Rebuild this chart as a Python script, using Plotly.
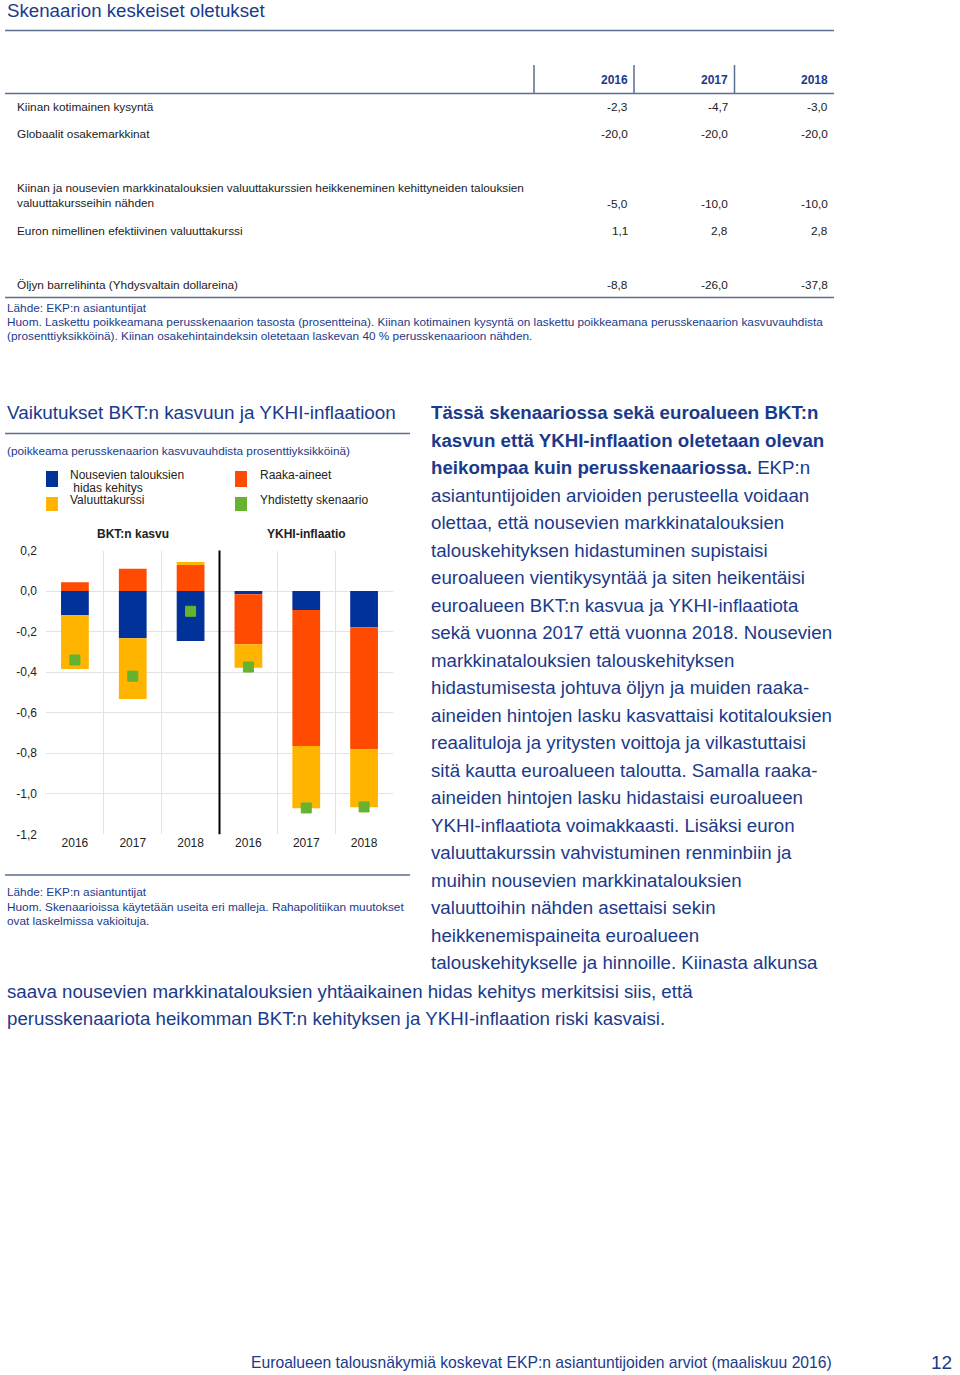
import plotly.graph_objects as go

# ---------------- data ----------------
years = ["2016", "2017", "2018", "2016", "2017", "2018"]
nousevat = [-0.120, -0.233, -0.247, -0.016, -0.094, -0.179]   # Nousevien talouksien hidas kehitys
raaka = [0.043, 0.110, 0.128, -0.247, -0.671, -0.602]        # Raaka-aineet
valuutta = [-0.265, -0.300, 0.015, -0.115, -0.307, -0.286]   # Valuuttakurssi
yhdistetty = [-0.34, -0.42, -0.10, -0.375, -1.07, -1.065]    # Yhdistetty skenaario
y_ticks = [0.2, 0.0, -0.2, -0.4, -0.6, -0.8, -1.0, -1.2]

table_years = ["2016", "2017", "2018"]
table_rows = [
    "Kiinan kotimainen kysyntä",
    "Globaalit osakemarkkinat",
    "Kiinan ja nousevien markkinatalouksien valuuttakurssien heikkeneminen kehittyneiden talouksien<br>valuuttakursseihin nähden",
    "Euron nimellinen efektiivinen valuuttakurssi",
    "Öljyn barrelihinta (Yhdysvaltain dollareina)",
]
table_values = [
    ["-2,3", "-4,7", "-3,0"],
    ["-20,0", "-20,0", "-20,0"],
    ["-5,0", "-10,0", "-10,0"],
    ["1,1", "2,8", "2,8"],
    ["-8,8", "-26,0", "-37,8"],
]

body_lines = [
    "<b>Tässä skenaariossa sekä euroalueen BKT:n</b>",
    "<b>kasvun että YKHI-inflaation oletetaan olevan</b>",
    "<b>heikompaa kuin perusskenaariossa.</b> EKP:n",
    "asiantuntijoiden arvioiden perusteella voidaan",
    "olettaa, että nousevien markkinatalouksien",
    "talouskehityksen hidastuminen supistaisi",
    "euroalueen vientikysyntää ja siten heikentäisi",
    "euroalueen BKT:n kasvua ja YKHI-inflaatiota",
    "sekä vuonna 2017 että vuonna 2018. Nousevien",
    "markkinatalouksien talouskehityksen",
    "hidastumisesta johtuva öljyn ja muiden raaka-",
    "aineiden hintojen lasku kasvattaisi kotitalouksien",
    "reaalituloja ja yritysten voittoja ja vilkastuttaisi",
    "sitä kautta euroalueen taloutta. Samalla raaka-",
    "aineiden hintojen lasku hidastaisi euroalueen",
    "YKHI-inflaatiota voimakkaasti. Lisäksi euron",
    "valuuttakurssin vahvistuminen renminbiin ja",
    "muihin nousevien markkinatalouksien",
    "valuuttoihin nähden asettaisi sekin",
    "heikkenemispaineita euroalueen",
    "talouskehitykselle ja hinnoille. Kiinasta alkunsa",
]
body_wide_lines = [
    "saava nousevien markkinatalouksien yhtäaikainen hidas kehitys merkitsisi siis, että",
    "perusskenaariota heikomman BKT:n kehityksen ja YKHI-inflaation riski kasvaisi.",
]

# ---------------- styling ----------------
W, H = 960, 1375
FONT = "Liberation Sans, Arial, Helvetica, sans-serif"
NAVY = "#1a3a8c"
LINE = "#5b6f8f"
BLUE = "#003299"
ORANGE = "#ff4b00"
YELLOW = "#ffb400"
GREEN = "#65b32e"
GRID = "#e3e3e3"
SMALL = 11.8
BODY = 18.7


def px(x):
    return x / W


def py(y):
    return 1 - y / H


xs = list(range(len(years)))
y_ticktext = [("%.1f" % v).replace(".", ",") for v in y_ticks]

fig = go.Figure()
fig.add_trace(go.Bar(x=xs, y=nousevat, marker_color=BLUE, width=0.48,
                     marker_line_width=0, name="Nousevien talouksien hidas kehitys"))
fig.add_trace(go.Bar(x=xs, y=raaka, marker_color=ORANGE, width=0.48,
                     marker_line_width=0, name="Raaka-aineet"))
fig.add_trace(go.Bar(x=xs, y=valuutta, marker_color=YELLOW, width=0.48,
                     marker_line_width=0, name="Valuuttakurssi"))
fig.add_trace(go.Scatter(x=xs, y=yhdistetty, mode="markers", name="Yhdistetty skenaario",
                         marker=dict(symbol="square", size=10, color=GREEN,
                                     line=dict(width=1, color=GREEN))))

plot_top, plot_bot = 550.5, 834.3
fig.update_layout(
    width=W, height=H,
    autosize=False,
    margin=dict(l=0, r=0, t=0, b=0, pad=0),
    paper_bgcolor="white", plot_bgcolor="white",
    barmode="relative",
    showlegend=False,
    font=dict(family=FONT, color="#222222", size=11),
    xaxis=dict(
        domain=[px(46), px(393)],
        range=[-0.5, 5.5],
        automargin=False,
        tickmode="array", tickvals=xs, ticktext=years,
        showgrid=False, zeroline=False, showline=False,
        ticks="", tickfont=dict(size=12, color="#222222"),
        minor=dict(tickmode="array", tickvals=[-0.5, 0.5, 1.5, 3.5, 4.5, 5.5],
                   showgrid=True, gridcolor=GRID, gridwidth=1, ticks=""),
    ),
    yaxis=dict(
        domain=[py(plot_bot), py(plot_top)],
        range=[-1.2, 0.2],
        automargin=False,
        tickmode="array", tickvals=y_ticks, ticktext=y_ticktext,
        showgrid=True, gridcolor=GRID, gridwidth=1,
        zeroline=False, showline=False, ticks="",
        ticklabelstandoff=8,
        tickfont=dict(size=12, color="#222222"),
    ),
)

# divider between the two panels
fig.add_shape(type="line", xref="x", yref="paper", x0=2.5, x1=2.5,
              y0=py(plot_bot), y1=py(plot_top), line=dict(color="black", width=2))

annotations = []
shapes = []


def text(x, y, s, size=SMALL, color="#222222", xanchor="left", bold=False, yanchor="middle"):
    annotations.append(dict(
        x=px(x), y=py(y), xref="paper", yref="paper", text=("<b>%s</b>" % s) if bold else s,
        showarrow=False, xanchor=xanchor, yanchor=yanchor, align="left",
        font=dict(family=FONT, size=size, color=color), borderpad=0))


def hline(x0, x1, y, color=LINE, width=1.5):
    shapes.append(dict(type="line", xref="paper", yref="paper", x0=px(x0), x1=px(x1),
                       y0=py(y), y1=py(y), line=dict(color=color, width=width)))


def vline(x, y0, y1, color=LINE, width=1.5):
    shapes.append(dict(type="line", xref="paper", yref="paper", x0=px(x), x1=px(x),
                       y0=py(y0), y1=py(y1), line=dict(color=color, width=width)))


def rect(x0, y0, x1, y1, color):
    shapes.append(dict(type="rect", xref="paper", yref="paper", x0=px(x0), x1=px(x1),
                       y0=py(y1), y1=py(y0), fillcolor=color, line=dict(width=0)))


# ---------- top table ----------
text(6, 10.5, "Skenaarion keskeiset oletukset", size=18.7, color=NAVY)
hline(5, 834, 30.5)
for xv in (534, 634, 734.5):
    vline(xv, 65, 93)
hline(5, 834, 93.5)
col_x = [629, 729, 829]
for cx, yr in zip(col_x, table_years):
    text(cx, 80, yr, size=12, color=NAVY, xanchor="right", bold=True)

row_label_y = [107, 134, 196, 231, 285]
row_value_y = [107, 134, 204, 231, 285]
for lbl, ly, vy, vals in zip(table_rows, row_label_y, row_value_y, table_values):
    text(16, ly, lbl)
    for cx, v in zip(col_x, vals):
        text(cx, vy, v, xanchor="right")
hline(5, 834, 297.5)
text(6, 307.5, "Lähde: EKP:n asiantuntijat", color=NAVY)
text(6, 322, "Huom. Laskettu poikkeamana perusskenaarion tasosta (prosentteina). Kiinan kotimainen kysyntä on laskettu poikkeamana perusskenaarion kasvuvauhdista", color=NAVY)
text(6, 336, "(prosenttiyksikköinä). Kiinan osakehintaindeksin oletetaan laskevan 40 % perusskenaarioon nähden.", color=NAVY)

# ---------- chart frame ----------
text(6, 412, "Vaikutukset BKT:n kasvuun ja YKHI-inflaatioon", size=18.9, color=NAVY)
hline(5, 410, 433.5)
text(6, 451, "(poikkeama perusskenaarion kasvuvauhdista prosenttiyksikköinä)", color=NAVY)

# legend
rect(46, 471, 58, 487, BLUE)
rect(46, 497, 58, 511, YELLOW)
rect(235, 471, 247, 487, ORANGE)
rect(235, 497, 247, 511, GREEN)
text(69, 475, "Nousevien talouksien", size=12)
text(69, 488, " hidas kehitys", size=12)
text(69, 500, "Valuuttakurssi", size=12)
text(259, 475, "Raaka-aineet", size=12)
text(259, 500, "Yhdistetty skenaario", size=12)

text(133, 534, "BKT:n kasvu", size=12, xanchor="center", bold=True)
text(306, 534, "YKHI-inflaatio", size=12, xanchor="center", bold=True)

hline(5, 410, 875)
text(6, 892, "Lähde: EKP:n asiantuntijat", color=NAVY)
text(6, 907, "Huom. Skenaarioissa käytetään useita eri malleja. Rahapolitiikan muutokset", color=NAVY)
text(6, 921, "ovat laskelmissa vakioituja.", color=NAVY)

# ---------- body text ----------
for i, line in enumerate(body_lines):
    text(430, 412.5 + i * 27.52, line, size=BODY, color=NAVY)
for i, line in enumerate(body_wide_lines):
    text(6, 991 + i * 27.5, line, size=BODY, color=NAVY)

# ---------- footer ----------
text(833, 1362, "Euroalueen talousnäkymiä koskevat EKP:n asiantuntijoiden arviot (maaliskuu 2016)", size=15.7, color=NAVY, xanchor="right")
text(953, 1362, "12", size=19, color=NAVY, xanchor="right")

fig.update_layout(annotations=annotations)
for s in shapes:
    fig.add_shape(**s)

fig.write_html("out.html", config={"displayModeBar": False},
               post_script="document.body.style.margin='0';document.body.style.overflow='hidden';")
